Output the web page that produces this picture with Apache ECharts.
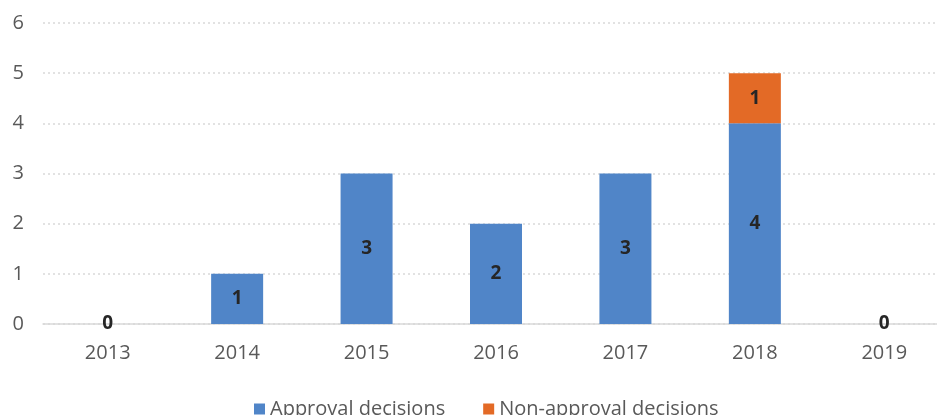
<!DOCTYPE html>
<html>
<head>
<meta charset="utf-8">
<script src="https://cdn.jsdelivr.net/npm/echarts@6/dist/echarts.min.js"></script>
<style>
html,body{margin:0;padding:0;background:#fff;}
#main{width:937px;height:415px;}
</style>
</head>
<body>
<div id="main"></div>
<script>
// 年份
var years = ['2013', '2014', '2015', '2016', '2017', '2018', '2019'];
// 批准
var approval = [0, 1, 3, 2, 3, 4, 0];
// 不批准
var nonApproval = ['-', '-', '-', '-', '-', 1, '-'];

var font = '"Open Sans", "Noto Sans", sans-serif';

var myChart = echarts.init(document.getElementById('main'));
var option = {
  animation: false,
  grid: {left: 43, width: 906, top: 23, bottom: 91, outerBoundsMode: 'none', containLabel: false},
  legend: {
    top: 394,
    left: 249,
    itemWidth: 11,
    itemHeight: 11,
    itemGap: 38,
    icon: 'rect',
    textStyle: {color: '#595959', fontSize: 20, fontFamily: font},
    data: ['Approval decisions', 'Non-approval decisions']
  },
  xAxis: {
    type: 'category',
    data: years,
    axisLine: {lineStyle: {color: '#D9D9D9', width: 1.5}},
    axisTick: {show: false},
    axisLabel: {color: '#595959', fontSize: 20, fontFamily: font, margin: 19}
  },
  yAxis: {
    type: 'value',
    min: 0,
    max: 6,
    interval: 1,
    axisLine: {show: false},
    axisTick: {show: false},
    axisLabel: {color: '#595959', fontSize: 20, fontFamily: font, margin: 19},
    splitLine: {lineStyle: {color: '#D9D9D9', type: [2, 3], width: 1.5}}
  },
  series: [
    {
      name: 'Approval decisions',
      type: 'bar',
      stack: 'all',
      barWidth: 52,
      itemStyle: {color: '#5085C8'},
      label: {show: true, position: 'inside', color: '#262626', fontWeight: 'bold', fontSize: 19, fontFamily: font},
      data: approval
    },
    {
      name: 'Non-approval decisions',
      type: 'bar',
      stack: 'all',
      barWidth: 52,
      itemStyle: {color: '#E36A26'},
      label: {show: true, position: 'inside', color: '#262626', fontWeight: 'bold', fontSize: 19, fontFamily: font},
      data: nonApproval
    }
  ]
};
myChart.setOption(option);
</script>
</body>
</html>
